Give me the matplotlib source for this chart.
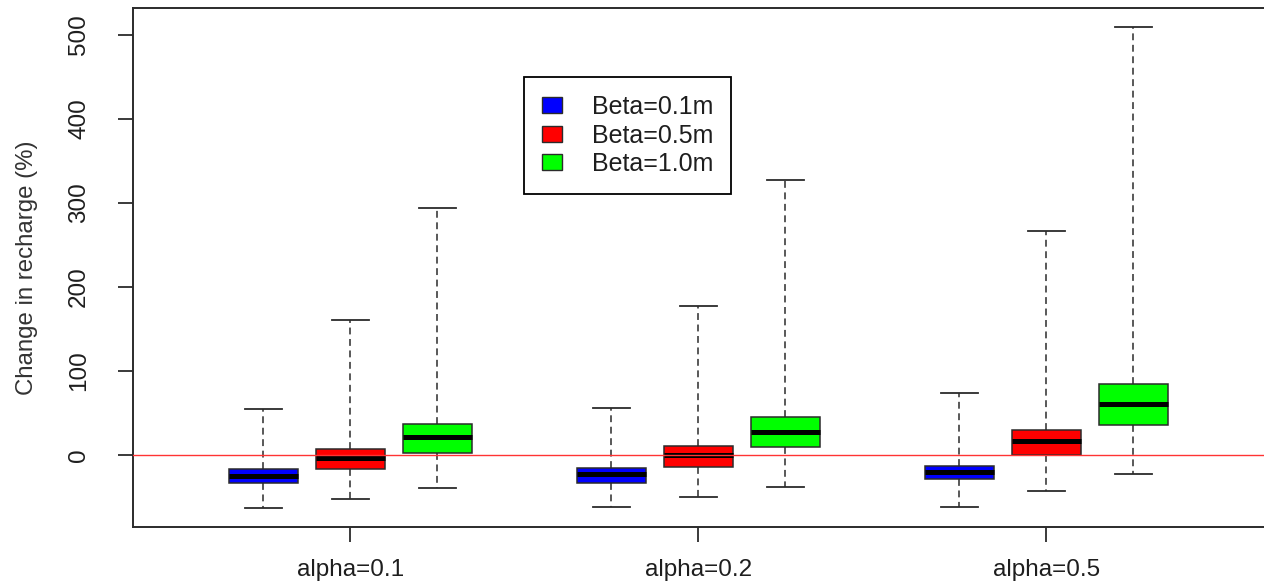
import matplotlib.pyplot as plt
from matplotlib.patches import Patch

plt.rcParams['font.family'] = ['Liberation Sans', 'DejaVu Sans']

# values, one entry per box (alpha=0.1, 0.2, 0.5)
groups = ['alpha=0.1', 'alpha=0.2', 'alpha=0.5']
betas = ['Beta=0.1m', 'Beta=0.5m', 'Beta=1.0m']
colors = ['#0000ff', '#ff0000', '#00ff00']

whislo = {'Beta=0.1m': [-63, -62, -62],
          'Beta=0.5m': [-52, -50, -43],
          'Beta=1.0m': [-40, -38, -23]}
q1 = {'Beta=0.1m': [-33, -33, -29],
      'Beta=0.5m': [-17, -15, 0],
      'Beta=1.0m': [2, 9, 36]}
med = {'Beta=0.1m': [-25, -23, -20],
       'Beta=0.5m': [-4, 0, 16],
       'Beta=1.0m': [21, 27, 61]}
q3 = {'Beta=0.1m': [-17, -16, -13],
      'Beta=0.5m': [7, 11, 30],
      'Beta=1.0m': [37, 45, 84]}
whishi = {'Beta=0.1m': [54, 56, 74],
          'Beta=0.5m': [160, 177, 267],
          'Beta=1.0m': [294, 327, 509]}

fig = plt.figure(figsize=(12.64, 5.87), dpi=100)
ax = fig.add_axes([0.1052, 0.1022, 0.8948, 0.8842])

ink = '#2b2b2b'
dash = (0, (4.5, 3.0))

for j, b in enumerate(betas):
    stats = []
    pos = []
    for i, g in enumerate(groups):
        stats.append({'med': med[b][i], 'q1': q1[b][i], 'q3': q3[b][i],
                      'whislo': whislo[b][i], 'whishi': whishi[b][i],
                      'fliers': []})
        pos.append(4 * i + j + 1)
    ax.bxp(stats, positions=pos, widths=0.8, capwidths=0.43,
           showfliers=False, patch_artist=True,
           boxprops=dict(facecolor=colors[j], edgecolor=ink, linewidth=1.1),
           medianprops=dict(color='black', linewidth=3.6),
           whiskerprops=dict(color=ink, linewidth=1.1, linestyle=dash),
           capprops=dict(color=ink, linewidth=1.3))

ax.axhline(0, color='#ff3333', linewidth=1.0, zorder=4)

ax.set_xlim(-0.5, 12.5)
ax.set_ylim(-85.9, 531.9)
ax.set_xticks([2, 6, 10])
ax.set_xticklabels(groups, fontsize=17.5, color='#1e1e1e')
ax.set_yticks([0, 100, 200, 300, 400, 500])
ax.set_yticklabels(['0', '100', '200', '300', '400', '500'], fontsize=17.5,
                   rotation=90, va='center', color='#1e1e1e')
ax.tick_params(axis='both', length=10.8, width=1.3, color=ink)
ax.tick_params(axis='y', pad=20)
ax.tick_params(axis='x', pad=12)
ax.set_ylabel('Change in recharge (%)', fontsize=17.3, color='#333333', labelpad=22)

for s in ['left', 'bottom', 'top']:
    ax.spines[s].set_color(ink)
    ax.spines[s].set_linewidth(1.4)
ax.spines['right'].set_visible(False)

handles = [Patch(facecolor=c, edgecolor=ink, linewidth=1.0) for c in colors]
leg = ax.legend(handles, betas, loc='upper left', bbox_to_anchor=(0.3457, 0.867),
                borderaxespad=0, fontsize=18, frameon=True, fancybox=False,
                framealpha=1, edgecolor='black', handlelength=0.8,
                handleheight=0.6, labelspacing=0.18, borderpad=0.72,
                handletextpad=1.2)
leg.get_frame().set_linewidth(1.3)
for t in leg.get_texts():
    t.set_color('#1e1e1e')

fig.savefig('out.png', dpi=100)
